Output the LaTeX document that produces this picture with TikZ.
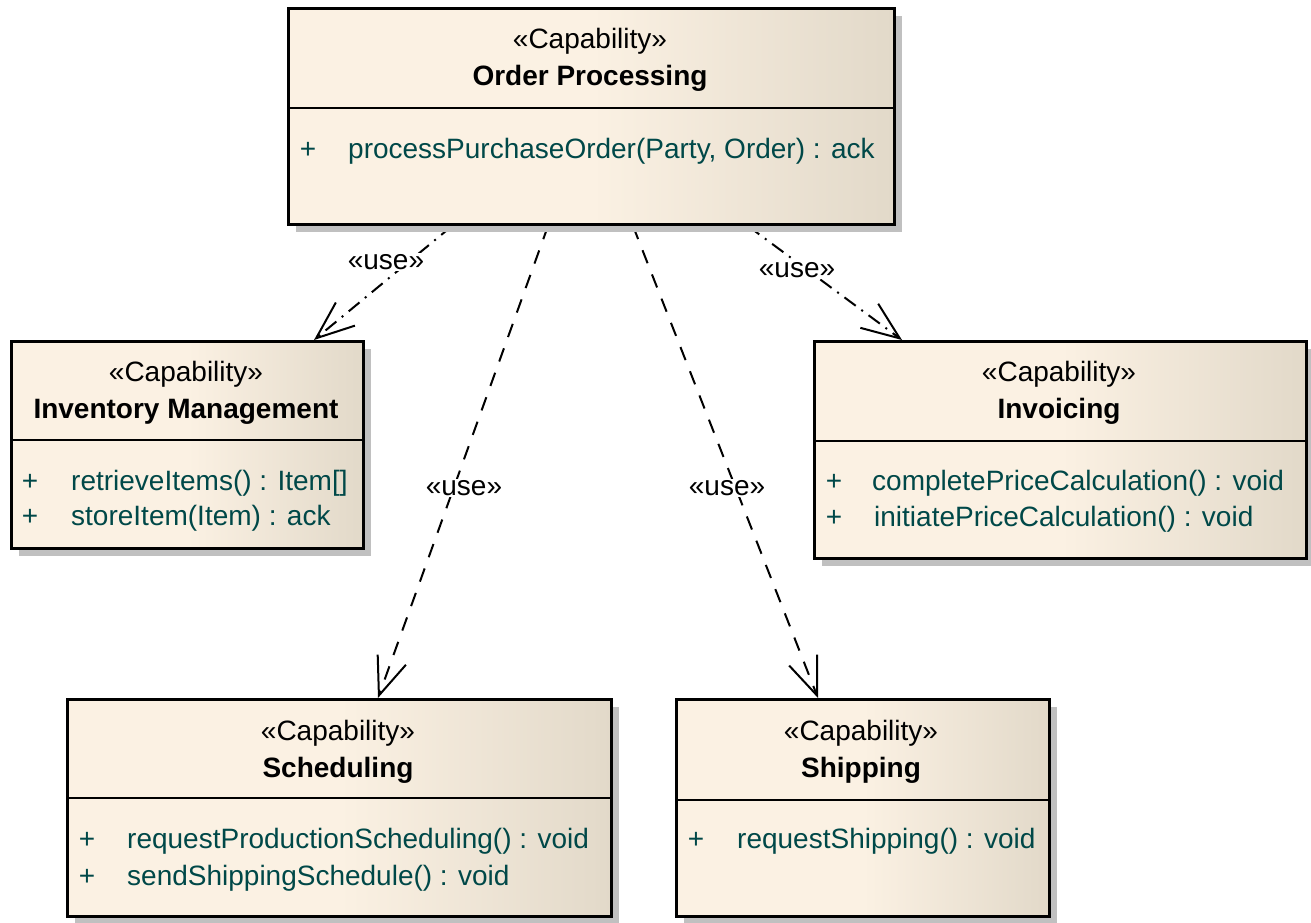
\documentclass[tikz,border=0pt]{standalone}
\usepackage{fontspec}
\setmainfont{Liberation Sans}
\usetikzlibrary{arrows.meta,shadows}
\definecolor{cream}{RGB}{251,241,227}
\definecolor{beige}{RGB}{226,217,201}
\definecolor{optxt}{RGB}{0,72,72}
\definecolor{shadowgray}{RGB}{192,192,192}
\pgfdeclarelayer{bg}
\pgfsetlayers{bg,main}
\begin{document}
\begin{tikzpicture}[x=1pt,y=-1pt,
  font=\fontsize{28}{34}\selectfont,
  box/.style={draw=black, line width=3pt, inner sep=0pt, anchor=north west,
    left color=cream, right color=beige, middle color=cream,
    drop shadow={shadow xshift=7pt, shadow yshift=-7pt, fill=shadowgray, opacity=1}},
  divider/.style={line width=2.5pt},
  stereo/.style={anchor=base, inner sep=0pt},
  cname/.style={anchor=base, inner sep=0pt, font=\fontsize{28}{34}\selectfont\bfseries},
  opsign/.style={anchor=base, inner sep=0pt, text=optxt},
  optext/.style={anchor=base west, inner sep=0pt, text=optxt},
  uselbl/.style={fill=white, inner sep=1pt},
  dep/.style={line width=2pt, dash pattern=on 14pt off 12pt,
    -{Straight Barb[length=38pt,width=30pt]}},
  depdot/.style={dep, dash pattern=on 14pt off 7pt on 2pt off 7pt}]
\useasboundingbox (0,0) rectangle (1311,922);

% boxes
\node[box, minimum width=606pt, minimum height=216pt] (op) at (287,7) {};
\node[box, minimum width=352pt, minimum height=207pt] (inv) at (10,340) {};
\node[box, minimum width=492pt, minimum height=217pt] (invc) at (813,340) {};
\node[box, minimum width=544pt, minimum height=217pt] (sch) at (66,698) {};
\node[box, minimum width=373pt, minimum height=217pt] (shp) at (675,698) {};

% dividers
\draw[divider] (op.west |- 0,108) -- (op.east |- 0,108);
\draw[divider] (inv.west |- 0,440) -- (inv.east |- 0,440);
\draw[divider] (invc.west |- 0,441) -- (invc.east |- 0,441);
\draw[divider] (sch.west |- 0,798) -- (sch.east |- 0,798);
\draw[divider] (shp.west |- 0,800) -- (shp.east |- 0,800);

% Order Processing
\node[stereo] (opS) at (590,48) {«Capability»};
\node[cname] (opN) at (590,85) {Order Processing};
\node[opsign] (opP1) at (308,158) {+};
\node[optext] (opO1) at (348,158) {processPurchaseOrder(Party, Order) : ack};

% Inventory Management
\node[stereo] (invS) at (186,381) {«Capability»};
\node[cname] (invN) at (186,418) {Inventory Management};
\node[opsign] (invP1) at (30,490) {+};
\node[optext] (invO1) at (71,490) {retrieveItems() : Item[]};
\node[opsign] (invP2) at (30,525) {+};
\node[optext] (invO2) at (71,525) {storeItem(Item) : ack};

% Invoicing
\node[stereo] (invcS) at (1059,381) {«Capability»};
\node[cname] (invcN) at (1059,418) {Invoicing};
\node[opsign] (invcP1) at (834,490) {+};
\node[optext] (invcO1) at (872,490) {completePriceCalculation() : void};
\node[opsign] (invcP2) at (834,526) {+};
\node[optext] (invcO2) at (874,526) {initiatePriceCalculation() : void};

% Scheduling
\node[stereo] (schS) at (338,740) {«Capability»};
\node[cname] (schN) at (338,777) {Scheduling};
\node[opsign] (schP1) at (87,848) {+};
\node[optext] (schO1) at (127,848) {requestProductionScheduling() : void};
\node[opsign] (schP2) at (87,885) {+};
\node[optext] (schO2) at (127,885) {sendShippingSchedule() : void};

% Shipping
\node[stereo] (shpS) at (861,740) {«Capability»};
\node[cname] (shpN) at (861,777) {Shipping};
\node[opsign] (shpP1) at (696,848) {+};
\node[optext] (shpO1) at (737,848) {requestShipping() : void};

% connectors
\begin{pgfonlayer}{bg}
\draw[depdot] (op.south -| 452,0) -- (inv.north -| 314,0);
\draw[dep] (op.south -| 548,0) -- (sch.north -| 378,0);
\draw[dep] (op.south -| 633,0) -- (shp.north -| 818,0);
\draw[depdot] (op.south -| 748,0) -- (invc.north -| 902,0);
\end{pgfonlayer}

% labels
\node[uselbl] (u1) at (386,262) {«use»};
\node[uselbl] (u2) at (464,488) {«use»};
\node[uselbl] (u3) at (727,488) {«use»};
\node[uselbl] (u4) at (797,270) {«use»};
\end{tikzpicture}
\end{document}
